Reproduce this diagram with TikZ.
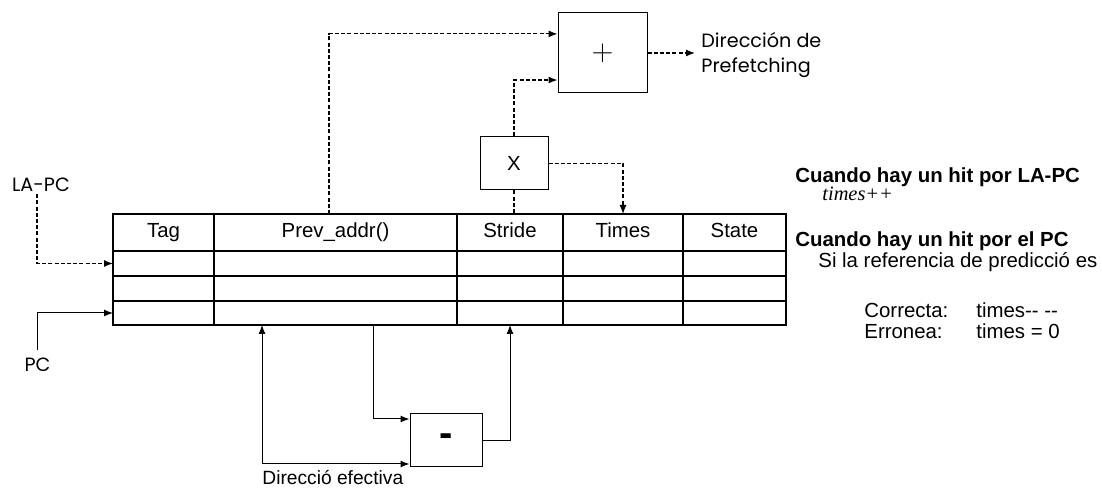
\documentclass[tikz,border=0pt]{standalone}
\usepackage{fontspec}
\setmainfont{Liberation Sans}
\newfontfamily\gothfont{Poppins}
\newfontfamily\timesfont{Liberation Serif}
\newcommand\sizetext{\fontsize{10.2}{12.5}\selectfont}
\usepackage{tikz}
\usetikzlibrary{arrows.meta, positioning}

\begin{document}
\begin{tikzpicture}[
    x=0.5pt, y=-0.5pt,
    font=\sizetext,
    hdr/.style={draw, line width=0.6pt, minimum height=18.5pt, text height=7.5pt, text depth=2pt, inner sep=0pt, outer sep=0pt},
    rowbox/.style={draw, line width=0.6pt, minimum width=336.5pt, inner sep=0pt, outer sep=0pt},
    opbox/.style={draw, line width=0.5pt, inner sep=0pt},
    lbl/.style={inner sep=0pt, anchor=base west},
    boldlbl/.style={lbl, font=\sizetext\bfseries},
    gothlbl/.style={inner sep=1pt, font=\gothfont\fontsize{9.6}{12.5}\selectfont},
    dline/.style={line width=0.6pt, dash pattern=on 2pt off 1.1pt},
    sline/.style={line width=0.5pt},
    arr/.style={-{Latex[length=4.5pt,width=3.5pt]}},
    arrs/.style={{Latex[length=4.5pt,width=3.5pt]}-{Latex[length=4.5pt,width=3.5pt]}},
  ]
  \useasboundingbox (0,0) rectangle (1102,490);

  \node[hdr, minimum width=50.5pt] (hdtag) at (163.5,232.5) {Tag};
  \node[hdr, minimum width=121.5pt, right=0pt of hdtag] (hdprev) {Prev\_addr()};
  \node[hdr, minimum width=53pt, right=0pt of hdprev] (hdstride) {Stride};
  \node[hdr, minimum width=60pt, right=0pt of hdstride] (hdtimes) {Times};
  \node[hdr, minimum width=51.5pt, right=0pt of hdtimes] (hdstate) {State};

  \node[rowbox, minimum height=12.5pt, anchor=north west] (row1) at (hdtag.south west) {};
  \node[rowbox, minimum height=12.5pt, below=0pt of row1] (row2) {};
  \node[rowbox, minimum height=12pt, below=0pt of row2] (row3) {};

  \foreach \c in {hdstride, hdtimes}
    \draw[line width=0.6pt] (\c.north east) -- (\c.north east |- row3.south);
  \foreach \c in {hdtag, hdprev}
    \draw[line width=1.4pt] (\c.north east) -- (\c.north east |- row3.south);

  \node[opbox, minimum width=44.5pt, minimum height=40pt] (plus) at (602.5,53) {\fontsize{15}{15}\selectfont$+$};
  \node[opbox, minimum width=34pt, minimum height=26.5pt] (xbox) at (514,163.5) {X};
  \node[opbox, minimum width=36pt, minimum height=26.5pt] (minus) at (446,440.5) {\fontsize{20}{20}\selectfont\bfseries\raisebox{-2pt}{-}};

  \node[gothlbl] (lapc) at (41,185) {LA-PC};
  \node[gothlbl, inner sep=4pt] (pc) at (37.5,365) {PC};
  \node[gothlbl, anchor=west, align=left, inner xsep=3pt] (dirpf) at (695,55) {Dirección de\\Prefetching};
  \node[lbl, font=\fontsize{9.6}{11}\selectfont] (deff) at (262,485) {Direcció efectiva};

  \node[boldlbl] (hitla) at (795,183) {Cuando hay un hit por LA-PC};
  \node[lbl, font=\sizetext\timesfont\itshape] (incr) at (822,201) {times++};
  \node[boldlbl] (hitpc) at (795,247) {Cuando hay un hit por el PC};
  \node[lbl] (pred) at (818,268) {Si la referencia de predicció es};
  \node[lbl] (okk) at (864,318) {Correcta:};
  \node[lbl] (okv) at (976,318) {times-{}- -{}-};
  \node[lbl] (bad) at (864,339) {Erronea:};
  \node[lbl] (badv) at (976,339) {times = 0};

  \path (hdprev.north) ++(-6.5,0) coordinate (prevtop);
  \path (hdprev |- row3.south) ++(37.5,0) coordinate (prevout);
  \path (hdprev |- row3.south) ++(-73.5,0) coordinate (effin);

  \draw[dline, arr] ([xshift=-2pt]lapc.south) |- (row1.west);
  \draw[sline, arr] (pc) |- (row3.west);
  \draw[dline, arr] (prevtop) |- (plus.157);
  \draw[dline, arr] (xbox) |- (plus.211);
  \draw[dline] (xbox) -- (xbox |- hdstride.north);
  \draw[dline, arr] (xbox) -| (hdtimes);
  \draw[dline, arr] (plus) -- (plus -| dirpf.west);
  \draw[sline, arr] (prevout) |- ([yshift=10.75pt]minus.west);
  \draw[sline, arrs] (effin) |- ([yshift=-11.75pt]minus.west);
  \draw[sline, arr] (minus) -| (row3.south -| hdstride);
\end{tikzpicture}
\end{document}
